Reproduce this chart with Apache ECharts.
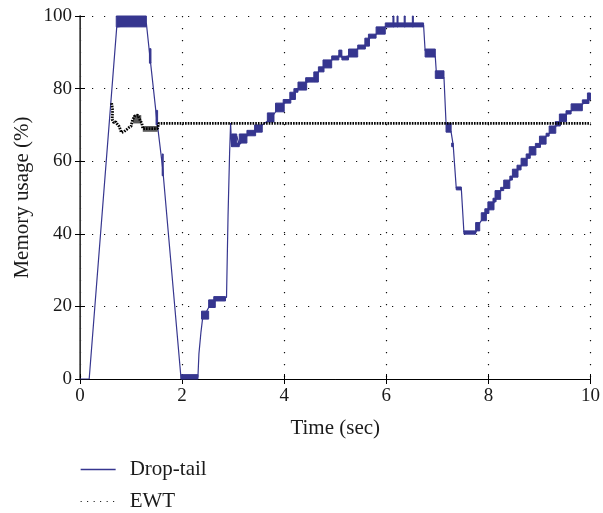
<!DOCTYPE html>
<html>
<head>
<meta charset="utf-8">
<script src="https://cdn.jsdelivr.net/npm/echarts@6/dist/echarts.min.js"></script>
<style>
  html, body { margin: 0; padding: 0; background: #ffffff; }
  #chart { width: 603px; height: 513px; }
</style>
</head>
<body>
<div id="chart"></div>
<script>
// Axis ticks
const timeTicks = [0, 2, 4, 6, 8, 10];
const usageTicks = [0, 20, 40, 60, 80, 100];

// Drop-tail memory usage trace (time in s, usage in %)
const dropTailTime = [0, 0.18, 0.72, 1.30, 1.36, 1.50, 1.62, 1.98, 2.31, 2.33, 2.37, 2.40, 2.52, 2.62, 2.87,
  2.90, 2.93, 2.95, 2.97, 3.07, 3.12, 3.27, 3.44, 3.57, 3.67, 3.80, 3.83, 4.00, 4.13, 4.22, 4.27, 4.44,
  4.58, 4.67, 4.78, 4.93, 5.07, 5.10, 5.13, 5.26, 5.44, 5.59, 5.67, 5.80, 5.98, 6.73, 6.76, 6.96, 6.98,
  7.13, 7.17, 7.27, 7.31, 7.37, 7.47, 7.52, 7.75, 7.83, 7.96, 8.01, 8.11, 8.15, 8.24, 8.30, 8.42, 8.47,
  8.58, 8.64, 8.76, 8.82, 8.93, 9.02, 9.13, 9.19, 9.32, 9.41, 9.53, 9.62, 9.84, 9.97, 10];
const dropTailUsage = [0, 0, 97, 98, 90, 72, 58, 0, 0.5, 7, 13, 16.5, 19.7, 21.5, 22.5,
  45, 62, 70.5, 64, 67, 64.5, 67, 68.5, 70, 71, 73, 73.6, 76, 77, 79, 80, 81.8,
  82.5, 84.6, 86, 87.9, 88.8, 90.5, 88.5, 89, 91, 92, 93.9, 95, 97, 97.5, 90.5, 88.7, 84.5,
  83, 70.5, 68, 64.5, 52.6, 52.3, 40.5, 40.3, 43, 45.5, 46.9, 48.6, 49.7, 51.8, 52.7, 54.7, 55.8,
  57.6, 58.7, 60.7, 61.9, 63.9, 64.8, 66.8, 67.6, 69.6, 70.8, 72.9, 73.8, 75.7, 76.8, 78.5];

// Drop-tail intervals of fast switching between two levels: start, end (s), low, high (%)
const dropBandStart = [0.71, 1.36, 1.49, 1.61, 1.98, 2.38, 2.52, 2.62, 2.97, 3.07, 3.12, 3.27, 3.42, 3.67, 3.83,
  3.98, 4.11, 4.19, 4.27, 4.42, 4.58, 4.67, 4.76, 4.93, 5.07, 5.13, 5.26, 5.44, 5.58, 5.65, 5.80, 5.98,
  6.13, 6.21, 6.35, 6.51, 6.76, 6.96, 7.17, 7.28, 7.37, 7.52, 7.75, 7.86, 7.93, 7.99, 8.09, 8.13, 8.24,
  8.30, 8.42, 8.47, 8.56, 8.64, 8.74, 8.80, 8.92, 9.00, 9.13, 9.19, 9.31, 9.39, 9.52, 9.62, 9.84, 9.94];
const dropBandEnd = [1.30, 1.39, 1.52, 1.63, 2.31, 2.52, 2.65, 2.85, 3.07, 3.12, 3.27, 3.44, 3.57, 3.80, 4.00,
  4.13, 4.22, 4.27, 4.44, 4.58, 4.67, 4.78, 4.93, 5.07, 5.13, 5.26, 5.44, 5.59, 5.67, 5.80, 5.98, 6.73,
  6.15, 6.23, 6.37, 6.53, 6.96, 7.13, 7.27, 7.31, 7.47, 7.75, 7.83, 7.96, 8.01, 8.11, 8.15, 8.24, 8.30,
  8.42, 8.47, 8.58, 8.64, 8.76, 8.82, 8.93, 9.02, 9.13, 9.19, 9.32, 9.41, 9.53, 9.62, 9.84, 9.97, 10];
const dropBandLow = [97, 87, 70, 56, 0, 16.5, 19.7, 21.5, 64, 64, 65, 67, 68, 70.8, 73.6,
  76.0, 77.0, 79.0, 79.6, 81.8, 81.8, 84.6, 85.7, 87.9, 88.7, 87.9, 88.7, 90.9, 91.7, 93.9, 95.0, 97.0,
  97, 97, 97, 97, 88.7, 82.8, 68.0, 64, 52.1, 39.9, 40.8, 43.6, 45.6, 46.6, 48.8, 49.5, 51.9,
  52.5, 54.8, 55.6, 57.6, 58.7, 60.8, 61.7, 63.8, 64.7, 66.9, 67.7, 69.7, 70.9, 73.0, 73.9, 75.9, 76.9];
const dropBandHigh = [100, 91, 74, 62, 1.2, 18.7, 21.8, 22.7, 67.5, 65, 67.5, 68.5, 70, 73.3, 76.0,
  77.0, 79.0, 80.0, 81.8, 83.0, 84.6, 86.0, 87.9, 89.0, 90.6, 88.9, 90.9, 92.0, 93.9, 95.0, 97.0, 98.1,
  100, 100, 100, 100, 90.9, 84.9, 70.5, 65, 52.9, 40.8, 43.1, 45.8, 46.9, 48.8, 49.8, 51.9, 52.8,
  54.8, 55.9, 57.8, 58.9, 60.8, 62.0, 64.0, 64.9, 66.9, 67.7, 69.7, 70.9, 73.0, 73.9, 75.8, 76.9, 78.8];

// EWT memory usage trace
const ewtTime = [0.62, 0.64, 0.63, 0.66, 0.70, 0.73, 0.77, 0.81, 0.86, 0.92, 0.96, 1.00, 1.03, 1.08, 1.13,
  1.18, 1.21, 1.23, 1.52, 1.54, 10];
const ewtUsage = [76, 74, 71.5, 70.6, 70.9, 70.2, 69.5, 67.9, 68.1, 68.8, 69.3, 69.6, 71.5, 72.5, 72.7,
  71.2, 70.5, 69, 69, 70.4, 70.4];

// EWT intervals of fast switching
const ewtBandStart = [1.04, 1.23];
const ewtBandEnd = [1.20, 1.52];
const ewtBandLow = [70.4, 68.1];
const ewtBandHigh = [72.7, 69.7];

const FONT = '"Liberation Serif", "DejaVu Serif", serif';
const BLUE = '#36368f';
const TEXT = '#1a1a1a';

const zip2 = (a, b) => a.map((v, i) => [v, b[i]]);
const zip4 = (a, b, c, d) => a.map((v, i) => [v, b[i], c[i], d[i]]);

// Draws each switching interval as a filled block between its two levels
function bandRenderer(fill, stroke) {
  return function (params, api) {
    const tl = api.coord([api.value(0), api.value(3)]);
    const br = api.coord([api.value(1), api.value(2)]);
    return {
      type: 'rect',
      shape: {
        x: tl[0], y: tl[1],
        width: Math.max(br[0] - tl[0], 1),
        height: Math.max(br[1] - tl[1], 1.2)
      },
      style: { fill: fill, stroke: stroke, lineWidth: stroke ? 1 : 0 }
    };
  };
}

const chart = echarts.init(document.getElementById('chart'), null, { renderer: 'canvas' });

const axisLineStyle = { color: '#000', width: 1 };
const gridDots = { color: '#111', width: 1.2, type: [1.2, 10.8] };

chart.setOption({
  animation: false,
  backgroundColor: '#ffffff',
  grid: { left: 80, right: 10, top: 16, bottom: 134, containLabel: false },
  xAxis: [{
    type: 'value', min: timeTicks[0], max: timeTicks[timeTicks.length - 1], interval: 2,
    name: 'Time (sec)', nameLocation: 'middle', nameGap: 39,
    nameTextStyle: { fontFamily: FONT, fontSize: 21, color: TEXT },
    axisLine: { show: true, lineStyle: axisLineStyle },
    axisTick: { show: true, inside: true, length: 5, lineStyle: axisLineStyle },
    axisLabel: { fontFamily: FONT, fontSize: 19, color: TEXT, margin: 8 },
    splitLine: { show: true, lineStyle: gridDots }
  }, {
    type: 'value', position: 'top', min: 0, max: 10, interval: 2,
    axisLine: { show: true, lineStyle: axisLineStyle },
    axisTick: { show: true, inside: true, length: 5, lineStyle: axisLineStyle },
    axisLabel: { show: false }, splitLine: { show: false }
  }],
  yAxis: [{
    type: 'value', min: usageTicks[0], max: usageTicks[usageTicks.length - 1], interval: 20,
    name: 'Memory usage (%)', nameLocation: 'middle', nameGap: 40, nameRotate: 90,
    nameTextStyle: { fontFamily: FONT, fontSize: 21, color: TEXT },
    axisLine: { show: true, lineStyle: axisLineStyle },
    axisTick: { show: true, inside: true, length: 5, lineStyle: axisLineStyle },
    axisLabel: { fontFamily: FONT, fontSize: 19, color: TEXT, margin: 8 },
    splitLine: { show: true, lineStyle: gridDots }
  }, {
    type: 'value', position: 'right', min: 0, max: 100, interval: 20,
    axisLine: { show: true, lineStyle: { color: '#444', width: 1.5 } },
    axisTick: { show: true, inside: true, length: 5, lineStyle: axisLineStyle },
    axisLabel: { show: false }, splitLine: { show: false }
  }],
  legend: {
    orient: 'vertical', left: 80, top: 459, height: 80, padding: 0,
    itemWidth: 35, itemHeight: 16, itemGap: 11,
    textStyle: { fontFamily: FONT, fontSize: 21, color: TEXT, padding: [0, 0, 0, 9] },
    itemStyle: { opacity: 0 },
    data: [
      { name: 'Drop-tail', lineStyle: { color: BLUE, width: 1.3 } },
      { name: 'EWT', lineStyle: { color: '#000', width: 1.2, type: [1, 5.5] } }
    ]
  },
  series: [
    {
      name: 'Drop-tail', type: 'line', data: zip2(dropTailTime, dropTailUsage),
      symbol: 'none', lineStyle: { color: BLUE, width: 1.2 }, itemStyle: { color: BLUE },
      z: 2
    },
    {
      name: 'Drop-tail bands', type: 'custom', data: zip4(dropBandStart, dropBandEnd, dropBandLow, dropBandHigh),
      encode: { x: [0, 1], y: [2, 3] }, renderItem: bandRenderer(BLUE, BLUE), z: 3
    },
    {
      name: 'EWT', type: 'line', data: zip2(ewtTime, ewtUsage),
      symbol: 'none', lineStyle: { color: '#000', width: 2.8, type: [1.6, 1.1] }, itemStyle: { color: '#000' },
      z: 5
    },
    {
      name: 'EWT bands', type: 'custom', data: zip4(ewtBandStart, ewtBandEnd, ewtBandLow, ewtBandHigh),
      encode: { x: [0, 1], y: [2, 3] }, renderItem: bandRenderer('rgba(20,20,20,0.7)', null), z: 5
    }
  ]
});
</script>
</body>
</html>
